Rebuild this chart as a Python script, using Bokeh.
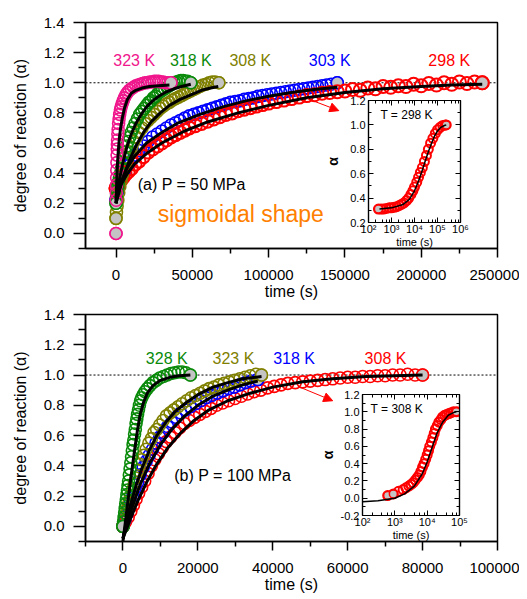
from bokeh.plotting import figure
from bokeh.layouts import column
from bokeh.models import (FixedTicker, PrintfTickFormatter, Span, Label, Arrow, NormalHead,
                          LinearAxis, LogAxis, LogTicker, CustomJSTickFormatter, Range1d)
from bokeh.embed import file_html
from bokeh.resources import INLINE

FONT = "Liberation Sans"

# ---------------- DATA: panel (a) P = 50 MPa : (time s, alpha) ----------------
a323 = [(0,0.00),(100,0.22),(200,0.27),(300,0.32),(400,0.37),(500,0.42),(600,0.47),(700,0.52),
        (800,0.56),(900,0.59),(1000,0.62),(1200,0.66),(1400,0.69),(1700,0.73),(2000,0.76),(2400,0.79),
        (2900,0.82),(3400,0.84),(4000,0.86),(4700,0.88),(5500,0.90),(6500,0.92),(7500,0.935),(8700,0.95),
        (10000,0.96),(11500,0.97),(13000,0.98),(14500,0.985),(16000,0.99),(17500,0.995),(19000,1.0),
        (20500,1.0),(22000,1.005),(23500,1.005),(25000,1.01),(26500,1.01),(28000,1.01),(29500,1.005),
        (31000,1.005),(32500,1.0),(34000,1.0),(36000,1.0)]
a318 = [(0,0.20),(300,0.24),(700,0.28),(1100,0.31),(1600,0.34),(2200,0.37),(2900,0.40),(3600,0.43),
        (4400,0.47),(5200,0.50),(6100,0.54),(7000,0.58),(8000,0.61),(9000,0.64),(10000,0.67),(11200,0.70),
        (12500,0.73),(14000,0.76),(15500,0.79),(17000,0.81),(18500,0.83),(20000,0.85),(21500,0.87),
        (23000,0.88),(24500,0.90),(26000,0.91),(27500,0.93),(29000,0.94),(30500,0.95),(32000,0.96),
        (33500,0.97),(35000,0.98),(36500,0.99),(38000,1.0),(39500,1.005),(41000,1.01),(42500,1.015),
        (44000,1.015),(45500,1.01),(47000,1.01),(49000,1.0)]
a308 = [(0,0.10),(300,0.14),(700,0.18),(1200,0.22),(1800,0.27),(2500,0.31),(3300,0.35),(4200,0.39),
        (5200,0.43),(6300,0.47),(7500,0.50),(8800,0.54),(10200,0.57),(11700,0.61),(13300,0.64),
        (15000,0.67),(17000,0.70),(19000,0.73),(21000,0.75),(23000,0.77),(25000,0.79),(27000,0.81),
        (29000,0.83),(31000,0.845),(33000,0.86),(35000,0.87),(37000,0.885),(39000,0.895),(41000,0.905),
        (43000,0.915),(45000,0.925),(47000,0.935),(49000,0.945),(51000,0.955),(53000,0.965),
        (55000,0.975),(57000,0.985),(59000,0.99),(61000,1.0),(63000,1.005),(65000,1.005),(67400,1.0)]
a303 = [(0,0.22),(800,0.27),(1800,0.31),(3000,0.35),(4500,0.39),(6000,0.42),(8000,0.45),(10000,0.48),
        (12500,0.52),(15000,0.55),(18000,0.58),(21000,0.61),(24000,0.64),(27000,0.66),(30000,0.68),
        (33000,0.70),(36000,0.72),(39000,0.735),(42000,0.75),(45000,0.765),(48000,0.78),(51000,0.79),
        (54000,0.80),(57000,0.81),(60000,0.82),(63000,0.83),(66000,0.84),(69000,0.85),(72000,0.86),
        (75000,0.87),(78000,0.875),(81000,0.88),(84000,0.89),(87000,0.895),(90000,0.90),(93000,0.91),
        (96000,0.915),(99000,0.92),(102000,0.925),(105000,0.93),(108000,0.935),(111000,0.94),
        (114000,0.945),(117000,0.95),(120000,0.955),(123000,0.96),(126000,0.965),(129000,0.97),
        (132000,0.975),(135000,0.98),(138000,0.985),(141000,0.99),(145000,1.0)]
a298 = [(0,0.30),(800,0.31),(1800,0.33),(3000,0.35),(4500,0.37),(6000,0.39),(8000,0.41),(10000,0.43),
        (12500,0.46),(15000,0.48),(18000,0.51),(21000,0.54),(24000,0.56),(27000,0.58),(30000,0.60),
        (33000,0.62),(36000,0.64),(39000,0.655),(42000,0.67),(45000,0.685),(48000,0.70),(52000,0.715),
        (56000,0.73),(60000,0.745),(64000,0.76),(68000,0.775),(72000,0.79),(76000,0.80),(80000,0.815),
        (84000,0.825),(88000,0.835),(92000,0.845),(96000,0.855),(100000,0.865),(105000,0.875),
        (110000,0.885),(115000,0.895),(120000,0.905),(125000,0.915),(130000,0.92),(135000,0.93),
        (140000,0.935),(145000,0.94),(150000,0.945),(155000,0.955),(160000,0.95),(165000,0.965),
        (170000,0.96),(175000,0.975),(180000,0.97),(185000,0.98),(190000,0.975),(195000,0.99),
        (200000,0.98),(205000,0.995),(210000,0.985),(215000,1.0),(220000,0.99),(225000,1.005),
        (230000,0.995),(235000,1.005),(240000,1.0)]
fit_a323 = [(0,0.2),(400,0.33),(900,0.45),(1500,0.55),(2200,0.63),(3000,0.70),(4000,0.76),(5500,0.83),
            (7500,0.89),(10000,0.93),(13000,0.95),(17000,0.965),(22000,0.975),(28000,0.98),(35000,0.985)]
fit_a318 = [(0,0.2),(1000,0.28),(2500,0.37),(4500,0.47),(7000,0.57),(10000,0.66),(13000,0.73),
            (16500,0.79),(20000,0.84),(24000,0.88),(28000,0.91),(33000,0.94),(38000,0.96),(43000,0.975),
            (49000,0.99)]
fit_a308 = [(0,0.2),(2000,0.28),(5000,0.38),(9000,0.49),(13000,0.58),(18000,0.67),(23000,0.74),
            (29000,0.80),(35000,0.85),(42000,0.89),(49000,0.92),(56000,0.95),(62000,0.965),(67000,0.975)]
fit_a303 = [(0,0.2),(3000,0.33),(7000,0.43),(12000,0.51),(20000,0.60),(30000,0.67),(40000,0.73),
            (55000,0.79),(70000,0.84),(85000,0.88),(100000,0.91),(115000,0.935),(130000,0.955),(145000,0.97)]
fit_a298 = [(0,0.22),(3000,0.32),(7000,0.39),(12000,0.46),(20000,0.53),(30000,0.60),(45000,0.68),
            (60000,0.74),(80000,0.80),(100000,0.85),(125000,0.90),(150000,0.935),(175000,0.96),
            (200000,0.975),(220000,0.985),(240000,0.99)]

# inset (a): T = 298 K, log time
in298 = [(270,0.31),(350,0.31),(450,0.31),(600,0.315),(800,0.32),(1000,0.32),(1300,0.325),(1700,0.33),
         (2200,0.34),(2800,0.35),(3500,0.36),(4500,0.38),(5600,0.40),(7000,0.43),(8500,0.46),(10000,0.49),
         (12500,0.53),(15000,0.57),(18000,0.61),(22000,0.65),(27000,0.70),(33000,0.75),(40000,0.80),
         (50000,0.85),(63000,0.89),(80000,0.93),(100000,0.96),(130000,0.98),(170000,0.995),(220000,1.0),
         (240000,1.0)]
fit_in298 = [(300,0.31),(1000,0.32),(3000,0.345),(6000,0.39),(10000,0.46),(15000,0.54),(22000,0.63),
             (30000,0.71),(40000,0.78),(55000,0.85),(75000,0.91),(100000,0.95),(140000,0.98),
             (200000,0.995),(240000,1.0)]

# ---------------- DATA: panel (b) P = 100 MPa ----------------
b328 = [(0,0.00),(150,0.03),(300,0.06),(450,0.09),(600,0.12),(750,0.15),(900,0.18),(1050,0.21),
        (1200,0.24),(1350,0.27),(1500,0.30),(1700,0.34),(1900,0.38),(2100,0.42),(2300,0.46),(2500,0.50),
        (2700,0.54),(2900,0.57),(3100,0.61),(3300,0.64),(3500,0.68),(3700,0.71),(3900,0.74),(4150,0.77),
        (4400,0.80),(4700,0.83),(5000,0.85),(5400,0.87),(5900,0.89),(6500,0.91),(7200,0.93),(8000,0.95),
        (8900,0.965),(9800,0.98),(10800,0.99),(11800,1.0),(12800,1.01),(13800,1.015),(14800,1.02),
        (15800,1.02),(16800,1.015),(18000,1.0)]
b323 = [(0,0.00),(400,0.04),(800,0.08),(1200,0.12),(1600,0.16),(2000,0.20),(2500,0.24),(3000,0.28),
        (3500,0.32),(4000,0.37),(4500,0.41),(5000,0.44),(5600,0.47),(6200,0.51),(6900,0.55),(7600,0.58),
        (8300,0.62),(9000,0.64),(9800,0.67),(10700,0.70),(11600,0.73),(12600,0.75),(13600,0.77),
        (14700,0.79),(15800,0.81),(17000,0.83),(18200,0.85),(19400,0.865),(20600,0.88),(21800,0.895),
        (23000,0.91),(24300,0.92),(25600,0.935),(27000,0.945),(28400,0.955),(29800,0.965),(31200,0.975),
        (32600,0.985),(34000,0.995),(35500,1.005),(37000,1.0)]
b318 = [(0,0.00),(500,0.04),(1000,0.08),(1500,0.12),(2000,0.16),(2600,0.20),(3200,0.25),(3900,0.29),
        (4600,0.34),(5400,0.39),(6200,0.43),(7000,0.47),(7900,0.51),(8800,0.55),(9800,0.59),(10800,0.62),
        (11900,0.66),(13000,0.69),(14200,0.72),(15400,0.75),(16700,0.77),(18000,0.79),(19400,0.81),
        (20800,0.83),(22200,0.85),(23700,0.865),(25200,0.88),(26700,0.895),(28200,0.91),(29700,0.92),
        (31200,0.935),(32700,0.95),(34200,0.96),(36000,0.97)]
b308 = [(0,0.00),(700,0.03),(1400,0.06),(2100,0.10),(2800,0.14),(3500,0.18),(4200,0.22),(5000,0.26),
        (5800,0.30),(6700,0.35),(7600,0.40),(8500,0.44),(9500,0.48),(10500,0.52),(11600,0.56),(12700,0.59),
        (13900,0.62),(15100,0.65),(16400,0.68),(17700,0.70),(19100,0.72),(20500,0.74),(22000,0.76),
        (23500,0.78),(25000,0.80),(26600,0.815),(28200,0.83),(29900,0.845),(31600,0.86),(33300,0.875),
        (35000,0.89),(36800,0.90),(38600,0.915),(40400,0.925),(42200,0.935),(44000,0.945),(46000,0.95),
        (48000,0.955),(50000,0.96),(52000,0.965),(54000,0.97),(56000,0.975),(58000,0.98),(60000,0.985),
        (62000,0.985),(64000,0.99),(66000,0.99),(68000,0.995),(70000,0.995),(72000,1.0),(74000,1.0),
        (76000,1.005),(78000,1.0),(80000,1.0)]
fit_b328 = [(0,-0.1),(500,0.0),(1000,0.1),(1500,0.2),(2000,0.3),(2600,0.41),(3200,0.52),(3900,0.64),
            (4600,0.74),(5500,0.82),(6500,0.88),(8000,0.93),(10000,0.965),(12500,0.985),(15000,0.995),
            (18000,1.0)]
fit_b323 = [(0,-0.08),(1000,0.04),(2000,0.14),(3500,0.27),(5000,0.38),(7000,0.50),(9000,0.60),
            (11500,0.69),(14000,0.76),(17000,0.82),(20000,0.87),(24000,0.92),(28000,0.95),(32000,0.975),
            (37000,0.99)]
fit_b318 = [(0,-0.08),(1000,0.02),(2500,0.13),(4500,0.27),(7000,0.41),(10000,0.54),(13000,0.64),
            (16500,0.73),(20000,0.80),(24000,0.86),(28000,0.90),(32000,0.935),(36000,0.96)]
fit_b308 = [(0,-0.08),(2000,0.05),(4000,0.17),(6500,0.30),(9000,0.41),(12000,0.52),(15500,0.62),
            (19000,0.70),(23000,0.77),(28000,0.83),(34000,0.88),(40000,0.92),(48000,0.955),(56000,0.975),
            (65000,0.99),(80000,1.0)]

# inset (b): T = 308 K, log time
in308 = [(600,0.03),(900,0.05),(1300,0.08),(1800,0.10),(2200,0.12),(2700,0.14),(3200,0.16),(3700,0.18),
         (4300,0.21),(5000,0.24),(5700,0.27),(6400,0.31),(7200,0.36),(8000,0.40),(9000,0.45),(10000,0.50),
         (11000,0.55),(12000,0.60),(13500,0.65),(15000,0.70),(16500,0.75),(18000,0.80),(20500,0.84),
         (23000,0.88),(26500,0.91),(30000,0.94),(35000,0.96),(40000,0.97),(47000,0.98),(55000,0.99),
         (65000,1.0),(80000,1.0)]
fit_in308 = [(100,-0.04),(300,-0.03),(1000,0.0),(2000,0.05),(4000,0.14),(7000,0.28),(10000,0.42),
             (14000,0.58),(20000,0.75),(30000,0.88),(45000,0.96),(65000,0.99),(80000,1.0)]

# tick values
ya_ticks = [0.0, 0.2, 0.4, 0.6, 0.8, 1.0, 1.2, 1.4]
ya_minor = [-0.1, 0.1, 0.3, 0.5, 0.7, 0.9, 1.1, 1.3]
xa_ticks = [0, 50000, 100000, 150000, 200000, 250000]
xa_minor = [25000, 75000, 125000, 175000, 225000]
xb_ticks = [0, 20000, 40000, 60000, 80000, 100000]
xb_minor = [-10000, 10000, 30000, 50000, 70000, 90000]
ia_yticks = [0.2, 0.4, 0.6, 0.8, 1.0, 1.2]
ia_yminor = [0.3, 0.5, 0.7, 0.9, 1.1]
ib_yticks = [-0.2, 0.0, 0.2, 0.4, 0.6, 0.8, 1.0, 1.2]
ib_yminor = [-0.1, 0.1, 0.3, 0.5, 0.7, 0.9, 1.1]

PINK, GREEN, OLIVE, BLUE, RED = "#f0168c", "#0a8a0a", "#808000", "#0000ff", "#ff0000"
GRAY = "#c4c4c4"


def split(pairs):
    return [p[0] for p in pairs], [p[1] for p in pairs]


def style_main(p, xticks, xminor):
    p.grid.visible = False
    p.outline_line_color = "black"
    p.outline_line_width = 1.5
    p.background_fill_color = "white"
    p.border_fill_color = "white"
    p.xaxis.ticker = FixedTicker(ticks=xticks, minor_ticks=xminor)
    p.yaxis.ticker = FixedTicker(ticks=ya_ticks, minor_ticks=ya_minor)
    p.xaxis.formatter = PrintfTickFormatter(format="%d")
    p.yaxis.formatter = PrintfTickFormatter(format="%.1f")
    for ax in (p.xaxis[0], p.yaxis[0]):
        ax.axis_line_width = 1.5
        ax.major_tick_line_width = 1.5
        ax.minor_tick_line_width = 1.5
        ax.major_tick_in = 0
        ax.minor_tick_in = 0
        ax.major_label_text_font = FONT
        ax.major_label_text_font_size = "15px"
        ax.major_label_text_color = "black"
        ax.axis_label_text_font = FONT
        ax.axis_label_text_font_size = "16px"
        ax.axis_label_text_font_style = "normal"
        ax.axis_label_text_color = "black"
    p.xaxis.major_tick_out = 9
    p.xaxis.minor_tick_out = 5
    p.xaxis.major_label_standoff = 12
    p.xaxis.axis_label_standoff = 0
    p.yaxis.major_tick_out = 12
    p.yaxis.minor_tick_out = 7
    p.yaxis.major_label_standoff = 9
    p.yaxis.axis_label_standoff = 12
    p.xaxis.axis_label = "time (s)"
    p.yaxis.axis_label = "degree of reaction (\u03b1)"
    p.add_layout(Span(location=1.0, dimension="width", line_color="black", line_dash="2 2",
                      line_width=1, level="underlay"))


def draw_series(p, pairs, color, size=12, lw=1.6):
    t, a = split(pairs)
    p.scatter(t, a, marker="circle", size=size, line_color=color, fill_color=None, line_width=lw)
    p.scatter([t[0], t[-1]], [a[0], a[-1]], marker="circle", size=size, line_color=color,
              fill_color=GRAY, line_width=lw)


def draw_fit(p, pairs, lw=3):
    t, a = split(pairs)
    p.line(t, a, line_color="black", line_width=lw)


def label(p, x, y, text, color, size="16px", align="center"):
    p.add_layout(Label(x=x, y=y, text=text, text_color=color, text_font=FONT, text_font_size=size,
                       text_align=align, text_baseline="middle"))


SUP = CustomJSTickFormatter(code="""
const s = {"0":"\u2070","1":"\u00b9","2":"\u00b2","3":"\u00b3","4":"\u2074","5":"\u2075","6":"\u2076","7":"\u2077","8":"\u2078","9":"\u2079","-":"\u207b"};
const e = Math.round(Math.log10(tick));
return "10" + String(e).split("").map(c => s[c]).join("");
""")


def make_inset(xr, yr, yticks, yminor, width, height, alpha_standoff):
    # left/right borders equal to the main panels' so that column frame alignment is harmless
    p = figure(width=width, height=height, x_axis_type="log", x_range=Range1d(*xr), y_range=Range1d(*yr),
               output_backend="svg", toolbar_location=None,
               min_border_left=77, min_border_right=22, min_border_top=10, min_border_bottom=36)
    p.grid.visible = False
    p.outline_line_color = "black"
    p.outline_line_width = 1.2
    p.background_fill_color = "white"
    p.border_fill_alpha = 0.0
    bx = p.below[0]
    ly = p.left[0]
    bx.ticker = LogTicker()
    bx.formatter = SUP
    ly.ticker = FixedTicker(ticks=yticks, minor_ticks=yminor)
    ly.formatter = PrintfTickFormatter(format="%.1f")
    top = LogAxis(ticker=LogTicker())
    right = LinearAxis(ticker=FixedTicker(ticks=yticks, minor_ticks=yminor))
    p.add_layout(top, "above")
    p.add_layout(right, "right")
    for ax in (bx, ly, top, right):
        ax.axis_line_width = 1.2
        ax.major_tick_in = 5
        ax.major_tick_out = 0
        ax.minor_tick_in = 3
        ax.minor_tick_out = 0
        ax.major_tick_line_width = 1
        ax.minor_tick_line_width = 1
        ax.major_label_text_font = FONT
        ax.major_label_text_font_size = "11px"
        ax.major_label_text_color = "black"
        ax.axis_label_text_font = FONT
        ax.axis_label_text_color = "black"
        ax.axis_label_text_font_style = "normal"
    for ax in (top, right):
        ax.major_label_text_font_size = "1px"
        ax.major_label_text_alpha = 0.0
        ax.major_label_standoff = 0
    bx.major_label_standoff = 0
    ly.major_label_standoff = 3
    bx.axis_label = "time (s)"
    bx.axis_label_text_font_size = "11px"
    bx.axis_label_standoff = -2
    ly.axis_label = "\u03b1"
    ly.axis_label_text_font_size = "14px"
    ly.axis_label_text_font_style = "bold"
    ly.axis_label_standoff = alpha_standoff
    return p


# ---------------- panel (a) ----------------
pa = figure(width=511, height=297, x_range=Range1d(-20000, 250000), y_range=Range1d(-0.1, 1.4),
            output_backend="svg", toolbar_location=None,
            min_border_left=77, min_border_right=22, min_border_top=14, min_border_bottom=57)
style_main(pa, xa_ticks, xa_minor)
draw_series(pa, a303, BLUE)
draw_series(pa, a298, RED, size=13, lw=2)
draw_series(pa, a308, OLIVE)
draw_series(pa, a318, GREEN)
draw_series(pa, a323, PINK)
for f in (fit_a298, fit_a303, fit_a308, fit_a318, fit_a323):
    draw_fit(pa, f)
label(pa, 11900, 1.145, "323 K", PINK)
label(pa, 49000, 1.145, "318 K", GREEN)
label(pa, 88000, 1.145, "308 K", OLIVE)
label(pa, 140000, 1.145, "303 K", BLUE)
label(pa, 218400, 1.15, "298 K", RED)
label(pa, 14200, 0.325, "(a) P = 50 MPa", "black", size="16px", align="left")
label(pa, 27300, 0.13, "sigmoidal shape", "#ff8000", size="23px", align="left")
pa.add_layout(Arrow(end=NormalHead(size=9, fill_color=RED, line_color=RED), line_color=RED,
                    line_width=1, x_start=125600, y_start=0.894, x_end=146000, y_end=0.815))

# inset (a)
ia = make_inset((100, 1e6), (0.2, 1.2), ia_yticks, ia_yminor, 191, 168, 6)
t, a = split(in298)
ia.scatter(t, a, marker="circle", size=9, line_color=RED, fill_color=None, line_width=2)
ia.scatter([t[0], t[-1]], [a[0], a[-1]], marker="circle", size=8, line_color=RED, fill_color=GRAY, line_width=1.5)
draw_fit(ia, fit_in298, lw=1.5)
label(ia, 330, 1.085, "T = 298 K", "black", size="12px", align="left")

# ---------------- panel (b) ----------------
pb = figure(width=511, height=293, x_range=Range1d(-10000, 100000), y_range=Range1d(-0.1, 1.4),
            output_backend="svg", toolbar_location=None,
            min_border_left=77, min_border_right=22, min_border_top=9, min_border_bottom=57)
style_main(pb, xb_ticks, xb_minor)
draw_series(pb, b308, RED)
draw_series(pb, b318, BLUE)
draw_series(pb, b323, OLIVE)
draw_series(pb, b328, GREEN)
for f in (fit_b308, fit_b318, fit_b323, fit_b328):
    draw_fit(pb, f)
label(pb, 11700, 1.11, "328 K", GREEN)
label(pb, 29500, 1.11, "323 K", OLIVE)
label(pb, 45700, 1.11, "318 K", BLUE)
label(pb, 70100, 1.11, "308 K", RED)
label(pb, 13700, 0.337, "(b) P = 100 MPa", "black", size="16px", align="left")
pb.add_layout(Arrow(end=NormalHead(size=9, fill_color=RED, line_color=RED), line_color=RED,
                    line_width=1, x_start=47500, y_start=0.917, x_end=56000, y_end=0.83))

# inset (b)
ib = make_inset((100, 1e5), (-0.2, 1.2), ib_yticks, ib_yminor, 196, 167, 2)
t, a = split(in308)
ib.scatter(t, a, marker="circle", size=9, line_color=RED, fill_color=None, line_width=2)
ib.scatter([t[0], t[1], t[-1]], [a[0], a[1], a[-1]], marker="circle", size=8, line_color=RED,
           fill_color=GRAY, line_width=1.5)
draw_fit(ib, fit_in308, lw=1.5)
label(ib, 178, 1.03, "T = 308 K", "black", size="12px", align="left")

# overlay insets with negative margins (top, right, bottom, left)
pa.margin = (0, 0, 0, 0)
ia.margin = (-215, 0, 0, 283)
pb.margin = (47, 0, 0, 0)
ib.margin = (-214, 0, 47, 277)

layout = column(pa, ia, pb, ib, spacing=0)
layout.margin = (8, 0, 0, 8)

open("out.html", "w").write(file_html(layout, INLINE))
